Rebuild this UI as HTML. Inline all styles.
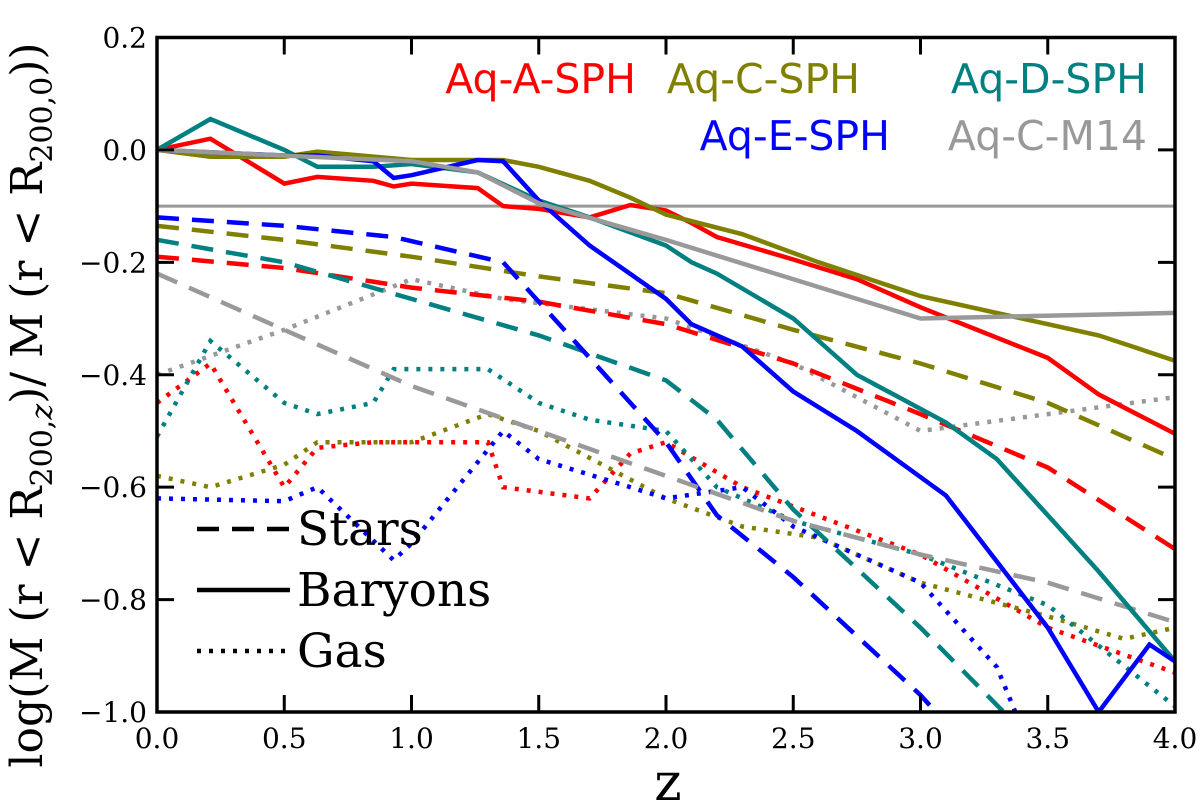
<!DOCTYPE html>
<html><head><meta charset="utf-8"><style>
body{margin:0;background:#fff;}
svg{display:block;}
</style></head><body>
<svg id="chart" width="1200" height="810" viewBox="0 0 1200 810" xmlns="http://www.w3.org/2000/svg">
<defs><clipPath id="plotclip"><rect x="157" y="38" width="1018" height="675"/></clipPath></defs>
<g id="series" clip-path="url(#plotclip)"></g>
<g id="axes"></g>
<g font-family="DejaVu Sans, Liberation Sans, sans-serif" font-size="41">
<text x="636" y="93" text-anchor="end" fill="#ff0000">Aq-A-SPH</text>
<text x="860" y="93" text-anchor="end" fill="#808000">Aq-C-SPH</text>
<text x="1147" y="93" text-anchor="end" fill="#008080">Aq-D-SPH</text>
<text x="890" y="150" text-anchor="end" fill="#0000ff">Aq-E-SPH</text>
<text x="1147" y="150" text-anchor="end" fill="#999999">Aq-C-M14</text>
</g>
<g font-family="DejaVu Serif, Liberation Serif, serif" font-size="47" fill="#000">
<line x1="197" y1="529" x2="290" y2="529" stroke="#000" stroke-width="4.5" stroke-dasharray="22,13"/>
<text x="297" y="545">Stars</text>
<line x1="197" y1="590" x2="290" y2="590" stroke="#000" stroke-width="4.5"/>
<text x="297" y="606">Baryons</text>
<line x1="197" y1="651" x2="290" y2="651" stroke="#000" stroke-width="4.5" stroke-dasharray="4,8"/>
<text x="297" y="667">Gas</text>
</g>
<text x="668" y="800" text-anchor="middle" font-family="DejaVu Serif, Liberation Serif, serif" font-size="52">z</text>
<text transform="translate(42,405) rotate(-90)" text-anchor="middle" font-family="DejaVu Serif, Liberation Serif, serif" font-size="44">log(M (r &lt; R<tspan font-size="30" dy="10">200,<tspan font-style="italic">z</tspan></tspan><tspan dy="-10">)/ M (r &lt; R</tspan><tspan font-size="30" dy="10">200,0</tspan><tspan dy="-10">))</tspan></text>
</svg>
<script>
const xTicks=[0,0.5,1.0,1.5,2.0,2.5,3.0,3.5,4.0];
const yTicks=[0.2,0.0,-0.2,-0.4,-0.6,-0.8,-1.0];
const refLine=-0.1;
// Baryons (solid)
const baryA_z=[0,0.21,0.5,0.63,0.85,0.93,1.0,1.26,1.36,1.5,1.7,1.86,2.0,2.1,2.2,2.5,2.75,3.0,3.5,3.7,4.0];
const baryA_v=[0,0.02,-0.06,-0.048,-0.055,-0.065,-0.06,-0.068,-0.1,-0.105,-0.12,-0.098,-0.108,-0.13,-0.155,-0.195,-0.23,-0.28,-0.37,-0.435,-0.505];
const baryC_z=[0,0.21,0.5,0.63,1.0,1.36,1.5,1.7,1.86,2.0,2.3,2.6,3.0,3.5,3.7,4.0];
const baryC_v=[0,-0.012,-0.012,-0.003,-0.018,-0.018,-0.03,-0.055,-0.085,-0.115,-0.15,-0.2,-0.26,-0.31,-0.33,-0.375];
const baryD_z=[0,0.21,0.5,0.63,0.85,1.0,1.26,1.5,1.7,2.0,2.1,2.2,2.5,2.75,3.1,3.3,3.5,3.7,4.0];
const baryD_v=[0,0.055,0,-0.03,-0.03,-0.025,-0.04,-0.09,-0.12,-0.17,-0.2,-0.22,-0.3,-0.4,-0.485,-0.55,-0.65,-0.75,-0.91];
const baryE_z=[0,0.5,0.63,0.85,0.93,1.0,1.26,1.36,1.5,1.7,2.0,2.1,2.3,2.5,2.75,3.1,3.5,3.7,3.9,4.0];
const baryE_v=[0,-0.01,-0.01,-0.02,-0.05,-0.045,-0.018,-0.02,-0.09,-0.17,-0.265,-0.31,-0.35,-0.43,-0.5,-0.615,-0.85,-1.0,-0.88,-0.91];
const baryM_z=[0,1.0,1.26,1.5,2.0,3.0,4.0];
const baryM_v=[0,-0.02,-0.04,-0.095,-0.16,-0.3,-0.29];
// Stars (dashed)
const starA_z=[0,0.5,1.0,1.5,2.0,2.5,3.0,3.5,4.0];
const starA_v=[-0.19,-0.21,-0.245,-0.27,-0.31,-0.38,-0.47,-0.565,-0.71];
const starC_z=[0,0.5,1.0,1.5,2.0,2.5,3.0,3.5,4.0];
const starC_v=[-0.135,-0.16,-0.19,-0.225,-0.255,-0.32,-0.38,-0.45,-0.55];
const starD_z=[0,0.5,1.0,1.5,2.0,2.2,2.5,3.0,3.37];
const starD_v=[-0.16,-0.2,-0.265,-0.33,-0.41,-0.48,-0.64,-0.85,-1.02];
const starE_z=[0,0.5,0.93,1.36,1.5,2.0,2.2,2.5,3.0,3.1];
const starE_v=[-0.12,-0.135,-0.155,-0.2,-0.27,-0.52,-0.65,-0.76,-0.97,-1.02];
const starM_z=[0,0.5,1.0,1.5,2.0,2.5,3.0,3.5,4.0];
const starM_v=[-0.22,-0.32,-0.42,-0.5,-0.58,-0.66,-0.72,-0.77,-0.84];
// Gas (dotted)
const gasA_z=[0,0.21,0.5,0.63,0.85,1.0,1.3,1.36,1.7,1.86,2.0,2.3,3.0,3.5,4.0];
const gasA_v=[-0.45,-0.38,-0.6,-0.53,-0.52,-0.52,-0.52,-0.6,-0.62,-0.54,-0.52,-0.6,-0.72,-0.85,-0.93];
const gasC_z=[0,0.21,0.5,0.63,1.0,1.3,1.5,2.0,2.3,2.6,3.0,3.5,3.8,4.0];
const gasC_v=[-0.58,-0.6,-0.56,-0.52,-0.52,-0.47,-0.5,-0.62,-0.67,-0.69,-0.77,-0.83,-0.87,-0.85];
const gasD_z=[0,0.21,0.5,0.63,0.85,0.93,1.3,1.5,1.7,2.0,2.2,2.5,3.0,3.5,4.0];
const gasD_v=[-0.51,-0.34,-0.45,-0.47,-0.45,-0.39,-0.39,-0.45,-0.48,-0.5,-0.6,-0.66,-0.72,-0.81,-0.99];
const gasE_z=[0,0.5,0.63,0.93,1.0,1.36,1.5,1.86,2.0,2.3,2.5,3.0,3.3,3.4];
const gasE_v=[-0.62,-0.625,-0.6,-0.73,-0.7,-0.5,-0.55,-0.6,-0.62,-0.6,-0.67,-0.77,-0.92,-1.03];
const gasM_z=[0,0.5,1.0,1.36,2.0,2.5,3.0,3.5,4.0];
const gasM_v=[-0.4,-0.32,-0.23,-0.265,-0.3,-0.38,-0.5,-0.47,-0.44];

const X0=157,X1=1175,Y0=712,Y1=37.5;
const xs=z=>X0+(z-0)/(4-0)*(X1-X0);
const ys=v=>Y0-(v-(-1.0))/(0.2-(-1.0))*(Y0-Y1);
const NS='http://www.w3.org/2000/svg';
const series=document.getElementById('series');
const axes=document.getElementById('axes');
function mk(tag,attrs,parent){const e=document.createElementNS(NS,tag);for(const k in attrs)e.setAttribute(k,attrs[k]);parent.appendChild(e);return e;}
const DASH='22,13',DOT='4,8';
const RED='#ff0000',OLI='#808000',TEA='#008080',BLU='#0000ff',GRY='#999999';
const rl=mk('line',{x1:X0,x2:X1,y1:ys(refLine),y2:ys(refLine),stroke:GRY,'stroke-width':3},series);


const defs=[
 ['gas-aq-a',gasA_z,gasA_v,RED,DOT],['gas-aq-c',gasC_z,gasC_v,OLI,DOT],['gas-aq-d',gasD_z,gasD_v,TEA,DOT],['gas-aq-e',gasE_z,gasE_v,BLU,DOT],['gas-aq-c-m14',gasM_z,gasM_v,GRY,DOT],
 ['stars-aq-a',starA_z,starA_v,RED,DASH],['stars-aq-c',starC_z,starC_v,OLI,DASH],['stars-aq-d',starD_z,starD_v,TEA,DASH],['stars-aq-e',starE_z,starE_v,BLU,DASH],['stars-aq-c-m14',starM_z,starM_v,GRY,DASH],
 ['baryons-aq-a',baryA_z,baryA_v,RED,null],['baryons-aq-c',baryC_z,baryC_v,OLI,null],['baryons-aq-d',baryD_z,baryD_v,TEA,null],['baryons-aq-e',baryE_z,baryE_v,BLU,null],['baryons-aq-c-m14',baryM_z,baryM_v,GRY,null]
];
defs.forEach(d=>{
 const pts=d[1].map((z,i)=>xs(z).toFixed(1)+','+ys(d[2][i]).toFixed(1)).join(' ');
 const a={points:pts,fill:'none',stroke:d[3],'stroke-width':4.5,'stroke-linejoin':'miter'};
 if(d[4])a['stroke-dasharray']=d[4];
 const p=mk('polyline',a,series);
 
 
});
const fr=mk('rect',{x:X0,y:Y1,width:X1-X0,height:Y0-Y1,fill:'none',stroke:'#000','stroke-width':3.5},axes);


xTicks.forEach(t=>{
 const x=xs(t);
 mk('line',{x1:x,x2:x,y1:Y0,y2:Y0-17,stroke:'#000','stroke-width':3},axes);
 mk('line',{x1:x,x2:x,y1:Y1,y2:Y1+17,stroke:'#000','stroke-width':3},axes);
 const tx=mk('text',{x:x,y:Y0+36,'text-anchor':'middle','font-family':'DejaVu Serif, Liberation Serif, serif','font-size':28},axes);
 tx.textContent=t.toFixed(1);
 
 
});
yTicks.forEach(t=>{
 const y=ys(t);
 mk('line',{x1:X0,x2:X0+17,y1:y,y2:y,stroke:'#000','stroke-width':3},axes);
 mk('line',{x1:X1,x2:X1-17,y1:y,y2:y,stroke:'#000','stroke-width':3},axes);
 const tx=mk('text',{x:X0-10,y:y+10,'text-anchor':'end','font-family':'DejaVu Serif, Liberation Serif, serif','font-size':28},axes);
 tx.textContent=(t<0?'\u2212':'')+Math.abs(t).toFixed(1);
 
 
});
</script>
</body></html>
